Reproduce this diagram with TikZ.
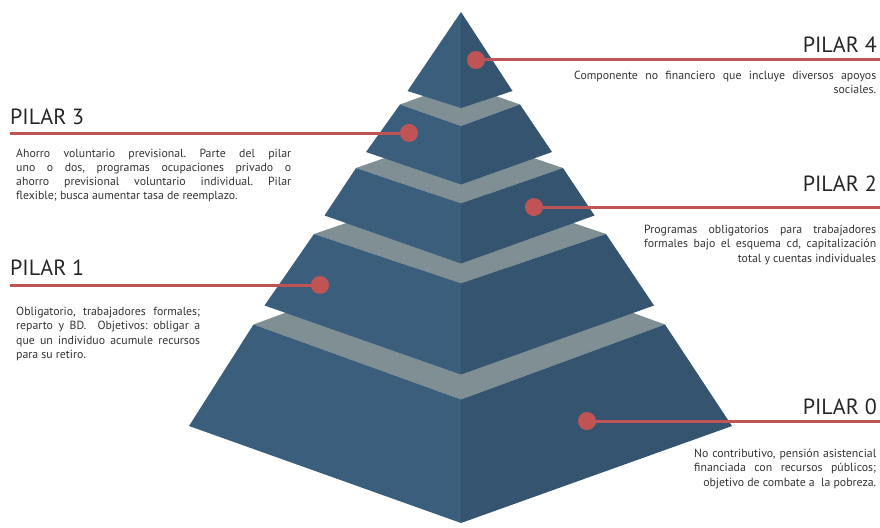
\documentclass[tikz,border=0pt]{standalone}
\usepackage{fontspec}
\setmainfont{PT Sans}
\usepackage{xcolor}

\definecolor{faceleft}{RGB}{58,94,124}
\definecolor{faceright}{RGB}{53,84,112}
\definecolor{facetop}{RGB}{127,143,148}
\definecolor{pilarred}{RGB}{192,84,84}
\definecolor{textgray}{RGB}{51,51,51}

\newcommand{\lastright}[2]{{\parfillskip=0pt\relax #1\par}%
  {\leftskip=0pt plus 1fil\parfillskip=0pt\relax #2\par}}

\begin{document}
\begin{tikzpicture}[x=1pt,y=-1pt,
  lface/.style={fill=faceleft},
  rface/.style={fill=faceright},
  tface/.style={fill=facetop},
  pdot/.style={circle,fill=pilarred,minimum size=18pt,inner sep=0pt},
  leader/.style={draw=pilarred,line width=3pt},
  ptitle/.style={font=\fontsize{22}{24}\selectfont,text=black!85,inner sep=0pt},
  desc/.style={font=\fontsize{11.8}{14.3}\selectfont\frenchspacing,text=textgray,
    align=justify,inner sep=0pt}
]
\useasboundingbox (0,0) rectangle (880,527);
\fill[tface] (253.5,324.5) -- (461,399.5) -- (665,324.5) -- (457.5,249.5) -- cycle;
\fill[lface] (253.5,324.5) -- (461,399.5) -- (461,523) -- (189,426) -- cycle;
\fill[rface] (461,399.5) -- (665,324.5) -- (732,426) -- (461,523) -- cycle;
\fill[tface] (314,234) -- (461,283.5) -- (606,234) -- (459,184.5) -- cycle;
\fill[lface] (314,234) -- (461,283.5) -- (461,374.5) -- (264.5,305.5) -- cycle;
\fill[rface] (461,283.5) -- (606,234) -- (654,305.5) -- (461,374.5) -- cycle;
\fill[tface] (356,168) -- (461,203.5) -- (563,168) -- (458,132.5) -- cycle;
\fill[lface] (356,168) -- (461,203.5) -- (461,263.5) -- (324.5,215.5) -- cycle;
\fill[rface] (461,203.5) -- (563,168) -- (594.5,215.5) -- (461,263.5) -- cycle;
\fill[tface] (400,104.5) -- (461,126) -- (520,104.5) -- (459,83) -- cycle;
\fill[lface] (400,104.5) -- (461,126) -- (461,184.5) -- (366,152) -- cycle;
\fill[rface] (461,126) -- (520,104.5) -- (552,152) -- (461,184.5) -- cycle;
\fill[lface] (461,12) -- (461,108) -- (407.5,91) -- cycle;
\fill[rface] (461,12) -- (512.5,91) -- (461,108) -- cycle;

\node[pdot] (d4) at (476,60) {};
\node[pdot] (d3) at (409,133) {};
\node[pdot] (d2) at (534,207) {};
\node[pdot] (d1) at (320,285) {};
\node[pdot] (d0) at (587,421) {};
\coordinate (e4) at (880,60);
\coordinate (e3) at (10,133);
\coordinate (e2) at (880,207);
\coordinate (e1) at (10,285);
\coordinate (e0) at (880,421);
\draw[leader] (d4) -- (e4);
\draw[leader] (e3) -- (d3);
\draw[leader] (d2) -- (e2);
\draw[leader] (e1) -- (d1);
\draw[leader] (d0) -- (e0);

\node[ptitle,anchor=base east] (p4) at (877,52.5) {PILAR 4};
\node[ptitle,anchor=base west] (p3) at (10,124.5) {PILAR 3};
\node[ptitle,anchor=base east] (p2) at (877,191.5) {PILAR 2};
\node[ptitle,anchor=base west] (p1) at (10,275.5) {PILAR 1};
\node[ptitle,anchor=base east] (p0) at (877,414) {PILAR 0};

\node[desc,text width=302pt,anchor=base west] (t4) at (574,79.5) {\lastright
  {Componente no financiero que incluye diversos apoyos}{sociales.}};
\node[desc,text width=275pt,anchor=base west] (t3) at (16,157) {
  Ahorro voluntario previsional. Parte del pilar\linebreak uno o dos,
  programas ocupaciones privado o\linebreak ahorro previsional voluntario
  individual. Pilar\linebreak flexible; busca aumentar tasa de reemplazo.};
\node[desc,text width=232pt,anchor=base west] (t2) at (644,233.5) {\lastright
  {Programas obligatorios para trabajadores\linebreak formales bajo el
  esquema cd, capitalización}{total y cuentas individuales}};
\node[desc,text width=184pt,anchor=base west] (t1) at (16,315.5) {
  Obligatorio, trabajadores formales;\linebreak reparto y BD.\ \ Objetivos:
  obligar a\linebreak que un individuo acumule recursos\linebreak para su retiro.};
\node[desc,text width=182pt,anchor=base west] (t0) at (694,457.5) {\lastright
  {No contributivo, pensión asistencial\linebreak financiada con recursos
  públicos;}{objetivo de combate a\ \ la pobreza.}};
\end{tikzpicture}
\end{document}
